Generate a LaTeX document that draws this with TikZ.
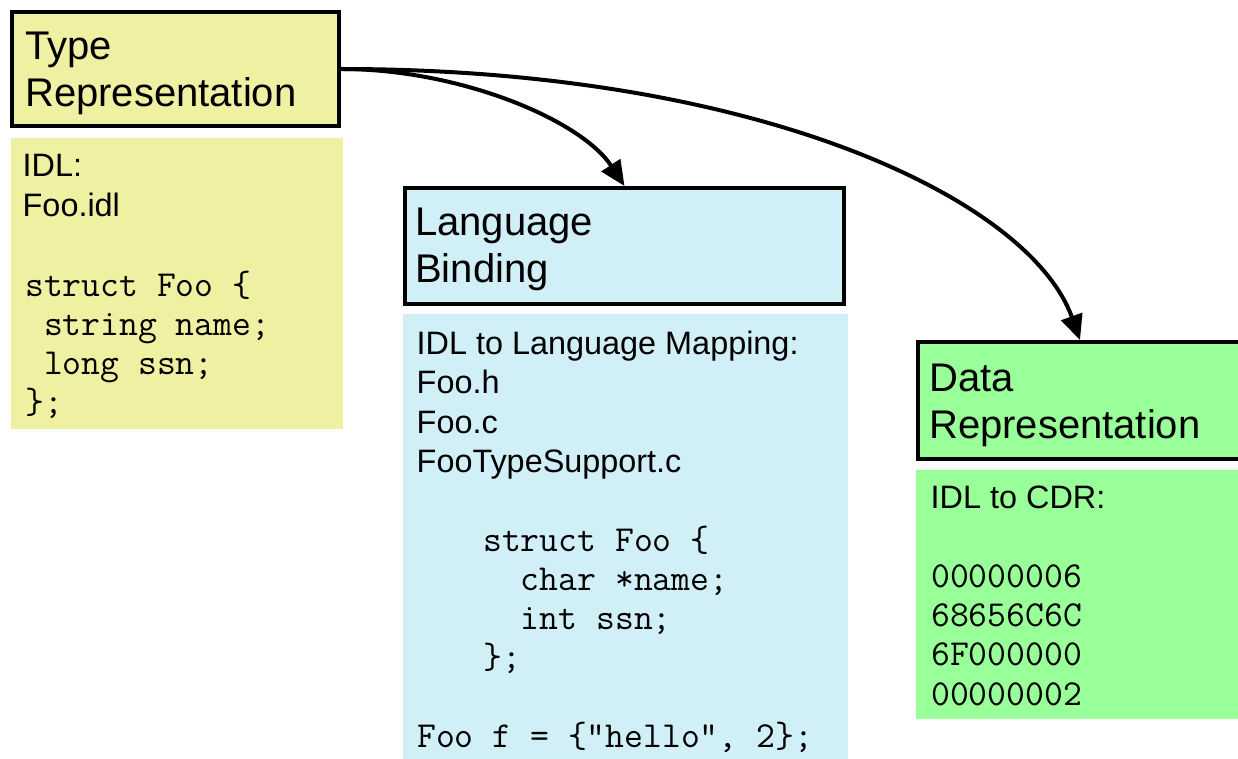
\documentclass[tikz,border=0pt]{standalone}
\usepackage{fontspec}
\setmainfont{Liberation Sans}
\usepackage{tikz}
\usetikzlibrary{arrows.meta}

\definecolor{typefill}{HTML}{F0F0A3}
\definecolor{bindfill}{HTML}{D1EFF7}
\definecolor{datafill}{HTML}{99FF99}

\begin{document}
\begin{tikzpicture}[x=1pt, y=-1pt,
  hdr/.style={draw, line width=4pt, inner sep=0pt},
  body/.style={inner sep=0pt, anchor=north west},
  title/.style={anchor=north west, inner sep=0pt, align=left,
    font=\fontsize{40}{47.5}\selectfont, execute at begin node=\strut},
  txt/.style={anchor=north west, inner sep=0pt, align=left,
    font=\fontsize{32.4}{39.2}\selectfont, execute at begin node=\strut},
  code/.style={anchor=north west, inner sep=0pt, align=left,
    font=\ttfamily\fontsize{36.6}{39.2}\selectfont, execute at begin node=\strut},
  conn/.style={line width=4pt, -{Triangle[length=25pt, width=22pt]}}]
\useasboundingbox (0,0) rectangle (1238,759);

\node[hdr, fill=typefill, minimum width=327pt, minimum height=114pt] (typehdr) at (175.5,69) {};
\node[body, fill=typefill, minimum width=332pt, minimum height=291pt] (typebody) at (11,138) {};
\node[title] (typetitle) at (25,31.5) {Type\\Representation};
\node[txt] (typeidl) at (22.5,154.5) {IDL:\\Foo.idl};
\node[code] (typecode) at (25,270.5) {struct Foo \{\\\phantom{x}string name;\\\phantom{x}long ssn;\\\};};

\node[hdr, fill=bindfill, minimum width=439pt, minimum height=116pt] (bindhdr) at (624.5,246) {};
\node[body, fill=bindfill, minimum width=445pt, minimum height=445pt] (bindbody) at (403,314) {};
\node[title] (bindtitle) at (415,207.5) {Language\\Binding};
\node[txt] (bindmap) at (416.5,331) {IDL to Language Mapping:\\Foo.h\\Foo.c\\FooTypeSupport.c};
\node[code] (bindcode) at (483,525.5) {struct Foo \{\\\phantom{xx}char *name;\\\phantom{xx}int ssn;\\\};};
\node[code] (bindinit) at (417,719.5) {Foo f = \{"hello", 2\};};

\node[hdr, fill=datafill, minimum width=324pt, minimum height=117pt] (datahdr) at (1080,400.5) {};
\node[body, fill=datafill, minimum width=330pt, minimum height=249pt] (databody) at (916,470) {};
\node[title] (datatitle) at (929,363.5) {Data\\Representation};
\node[txt] (datacdr) at (930.5,481) {IDL to CDR:};
\node[code] (datacode) at (931,564.5) {00000006\\68656C6C\\6F000000\\00000002};

\draw[conn] (typehdr.east) .. controls (460,69) and (581,120) .. (bindhdr.north);
\draw[conn] (typehdr.east) .. controls (760,69) and (1030,200) .. (datahdr.north);
\end{tikzpicture}
\end{document}
